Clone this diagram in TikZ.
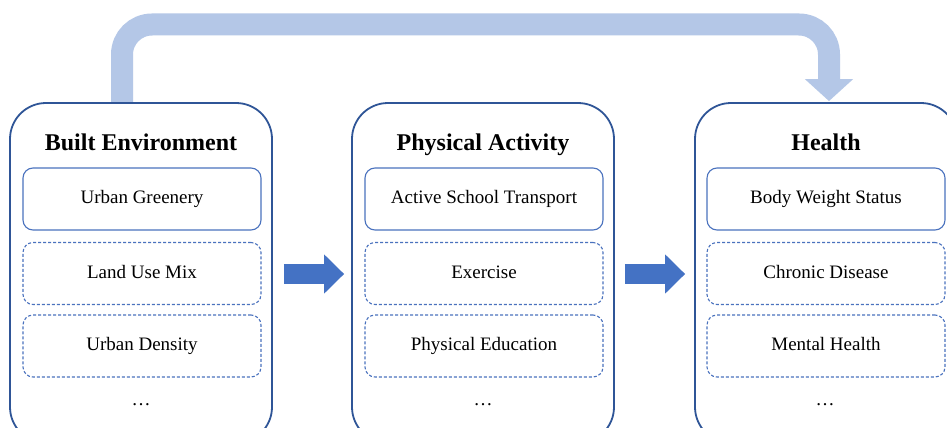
\documentclass[tikz,border=0pt]{standalone}
\usepackage{fontspec}
\setmainfont{Liberation Serif}
\usetikzlibrary{arrows.meta}
\pgfdeclarelayer{background}
\pgfsetlayers{background,main}
\definecolor{outerblue}{HTML}{2F5597}
\definecolor{innerblue}{HTML}{4A72BE}
\definecolor{arrowblue}{HTML}{4472C4}
\definecolor{lightflow}{HTML}{B4C7E7}
\tikzset{
  outerbox/.style={draw=outerblue, line width=1.8pt, fill=white, rounded corners=36pt,
    minimum width=262pt, minimum height=340pt, inner sep=0pt},
  solidbox/.style={draw=innerblue, line width=1.1pt, rounded corners=10pt,
    minimum width=238pt, minimum height=62pt, inner sep=0pt, text height=13.5pt, text depth=4pt,
    font=\fontsize{19}{22}\selectfont},
  dashbox/.style={solidbox, dash pattern=on 3pt off 2pt},
  titletext/.style={font=\fontsize{24}{28}\selectfont\bfseries, inner sep=0pt, anchor=base},
  dotstext/.style={font=\fontsize{19}{22}\selectfont, inner sep=0pt, anchor=base},
  blockarrow/.style={arrowblue, line width=20pt, -{Triangle[length=20pt, width=38pt]}},
  topflow/.style={lightflow, line width=22pt, rounded corners=30pt, -{Triangle[length=22pt, width=47pt]}}
}
\begin{document}
\begin{tikzpicture}[x=1pt, y=-1pt]
\useasboundingbox (0,0) rectangle (947,428);
\clip (0,0) rectangle (947,428);
% outer boxes
\node[outerbox] (BE) at (141,273) {};
\node[outerbox] (PA) at (483,273) {};
\node[outerbox] (HE) at (826,273) {};
% top flow arrow
\coordinate (toprow) at (0,24.5);
\begin{pgfonlayer}{background}
\fill[white] (0,0) rectangle (947,428);
\draw[topflow, shorten >=1pt] ([xshift=-19pt]BE.north) |- ([xshift=3pt]HE.north |- toprow) -- ([xshift=3pt]HE.north);
\end{pgfonlayer}
% titles
\node[titletext] (BEt) at (141,150) {Built Environment};
\node[titletext] (PAt) at (483,150) {Physical Activity};
\node[titletext] (HEt) at (826,150) {Health};
% inner boxes
\node[solidbox] (BE1) at (142,199) {Urban Greenery};
\node[dashbox]  (BE2) at (142,273.5) {Land Use Mix};
\node[dashbox]  (BE3) at (142,346) {Urban Density};
\node[dotstext] (BE4) at (141,405) {\dots};
\node[solidbox] (PA1) at (484,199) {Active School Transport};
\node[dashbox]  (PA2) at (484,273.5) {Exercise};
\node[dashbox]  (PA3) at (484,346) {Physical Education};
\node[dotstext] (PA4) at (483,405) {\dots};
\node[solidbox] (HE1) at (826,199) {Body Weight Status};
\node[dashbox]  (HE2) at (826,273.5) {Chronic Disease};
\node[dashbox]  (HE3) at (826,346) {Mental Health};
\node[dotstext] (HE4) at (825,405) {\dots};
% block arrows
\draw[blockarrow, shorten <=11pt, shorten >=7pt] ([yshift=-1pt]BE.east) -- ([yshift=-1pt]PA.west);
\draw[blockarrow, shorten <=10pt, shorten >=9pt] ([yshift=-1pt]PA.east) -- ([yshift=-1pt]HE.west);
\end{tikzpicture}
\end{document}
